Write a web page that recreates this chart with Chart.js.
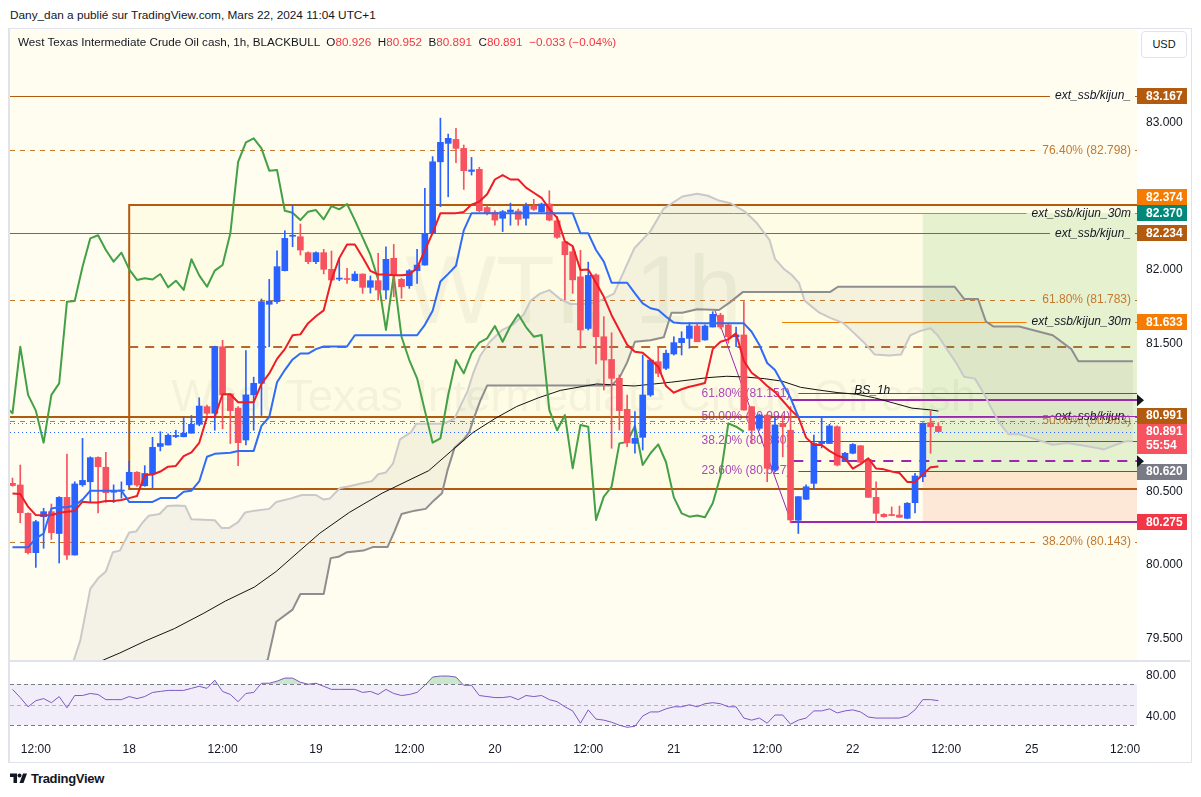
<!DOCTYPE html>
<html lang="fr">
<head>
    <meta charset="UTF-8">
    <title>WTI 1h - ichimoku</title>
    <script src="https://cdn.jsdelivr.net/npm/chart.js@4.4.1/dist/chart.umd.min.js"></script>
    <style>
        html, body { margin: 0; padding: 0; background: #fff; }
        body { width: 1201px; height: 797px; position: relative; overflow: hidden;
               font-family: Arial, "Liberation Sans", sans-serif; color: #131722; }
        #byline { position: absolute; left: 10px; top: 8px; font-size: 11.8px; }
        #frame { position: absolute; left: 8px; top: 28px; width: 1184px; height: 735px;
                 border: 1px solid #e0e3eb; border-left-width: 2px; box-sizing: border-box; }
        #main { position: absolute; left: 0; top: 30px; }
        #rsi { position: absolute; left: 0; top: 662px; }
        #sep { position: absolute; left: 10px; top: 660px; width: 1180px; height: 2px; background: #e0e3eb; }
        #legend { position: absolute; left: 18px; top: 35px; font-size: 11.7px; white-space: pre; }
        #legend .r { color: #f23645; }
        #usd { position: absolute; left: 1141px; top: 31px; width: 46px; height: 27px; box-sizing: border-box;
               border: 1px solid #e0e3eb; border-radius: 4px; font-size: 11px; text-align: center; line-height: 25px; background: #fff; }
        #logo { position: absolute; left: 10px; top: 771px; font-size: 13px; font-weight: bold; letter-spacing: -0.3px; }
        #logo svg { vertical-align: -1px; margin-right: 3px; }
    </style>
</head>
<body>
    <div id="byline">Dany_dan a publié sur TradingView.com, Mars 22, 2024 11:04 UTC+1</div>
    <div id="frame"></div>
    <canvas id="main" width="1190" height="630"></canvas>
    <div id="sep"></div>
    <canvas id="rsi" width="1190" height="100"></canvas>
    <div id="legend"></div>
    <div id="usd">USD</div>
    <div id="logo"><svg width="18" height="12" viewBox="0 0 36 24"><path d="M14 22H7V10H0V3h14v19zM27 22h-8l7-19h8l-7 19z" fill="#131722"/><circle cx="19" cy="7" r="4" fill="#131722"/></svg>TradingView</div>

    <script>
        // hourly candles, index 0 = first visible bar
        const opens = [80.54, 80.529, 80.337, 80.07, 80.314, 80.348, 80.2, 80.445, 80.054, 80.53,
            80.551, 80.716, 80.649, 80.48, 80.488, 80.53, 80.615, 80.524, 80.603, 80.79,
            80.80, 80.857, 80.856, 80.88, 80.94, 81.06, 81.015, 81.466, 81.146, 81.05,
            80.834, 81.14, 81.218, 81.754, 81.772, 81.982, 82.215, 82.212, 82.104, 82.043,
            82.104, 81.991, 81.925, 81.928, 81.914, 81.959, 81.869, 81.914, 81.851, 82.066,
            81.923, 81.88, 81.982, 82.02, 82.235, 82.72, 82.845, 82.872, 82.811, 82.655,
            82.669, 82.41, 82.378, 82.337, 82.382, 82.386, 82.337, 82.42, 82.382, 82.434,
            82.32, 82.178, 82.11, 81.94, 81.59, 81.953, 81.534, 81.38, 81.252, 81.042,
            80.811, 80.852, 81.139, 81.365, 81.32, 81.417, 81.494, 81.523, 81.607, 81.512,
            81.6, 81.68, 81.614, 81.534, 81.546, 81.06, 80.913, 81.003, 80.63, 80.947,
            80.9, 80.29, 80.432, 80.54, 80.81, 80.81, 80.924, 80.687, 80.744, 80.795,
            80.703, 80.445, 80.33, 80.325, 80.325, 80.303, 80.409, 80.585, 80.951, 80.926];
        const highs = [80.576, 80.664, 80.34, 80.29, 80.371, 80.40, 80.45, 80.739, 80.551, 80.845,
            80.72, 80.72, 80.75, 80.53, 80.55, 80.69, 80.62, 80.66, 80.852, 80.89,
            80.875, 80.90, 80.99, 81.0, 81.12, 81.07, 81.47, 81.51, 81.15, 81.06,
            81.44, 81.26, 81.79, 81.923, 82.117, 82.253, 82.427, 82.298, 82.11, 82.11,
            82.127, 82.115, 82.066, 81.998, 81.975, 81.96, 81.946, 82.1, 82.144, 82.16,
            81.93, 81.99, 82.127, 82.54, 82.755, 83.016, 82.908, 82.947, 82.834, 82.75,
            82.683, 82.42, 82.39, 82.39, 82.44, 82.40, 82.44, 82.466, 82.44, 82.524,
            82.35, 82.18, 82.144, 82.12, 82.04, 81.96, 81.67, 81.561, 81.275, 81.139,
            81.026, 81.41, 81.376, 81.456, 81.444, 81.534, 81.568, 81.63, 81.62, 81.614,
            81.704, 81.693, 81.62, 81.6, 81.772, 81.06, 81.01, 81.01, 80.99, 81.0,
            81.06, 80.45, 80.53, 80.867, 80.99, 80.94, 80.93, 80.75, 80.81, 80.795,
            80.703, 80.551, 80.335, 80.38, 80.386, 80.41, 80.608, 80.951, 81.03, 80.952];
        const lows = [80.52, 80.273, 80.061, 79.97, 80.10, 80.16, 80.0, 80.025, 80.054, 80.52,
            80.41, 80.34, 80.41, 80.41, 80.44, 80.52, 80.52, 80.52, 80.51, 80.76,
            80.80, 80.85, 80.855, 80.88, 80.93, 81.0, 80.90, 80.91, 80.81, 80.66,
            80.80, 80.90, 81.0, 81.466, 81.76, 81.98, 82.144, 82.088, 82.03, 82.03,
            81.96, 81.915, 81.914, 81.896, 81.91, 81.828, 81.83, 81.783, 81.788, 81.805,
            81.795, 81.862, 81.896, 82.02, 82.235, 82.416, 82.483, 82.714, 82.533, 82.63,
            82.382, 82.36, 82.29, 82.247, 82.29, 82.29, 82.29, 82.39, 82.38, 82.32,
            82.20, 81.783, 81.828, 81.456, 81.58, 81.35, 81.173, 80.778, 80.902, 80.789,
            80.744, 80.766, 81.13, 81.263, 81.31, 81.41, 81.41, 81.456, 81.5, 81.51,
            81.6, 81.59, 81.49, 81.466, 81.037, 80.81, 80.9, 80.551, 80.62, 80.72,
            80.275, 80.2, 80.43, 80.5, 80.78, 80.81, 80.658, 80.687, 80.74, 80.68,
            80.445, 80.273, 80.31, 80.32, 80.31, 80.30, 80.34, 80.551, 80.744, 80.891];
        const closes = [80.525, 80.341, 80.07, 80.28, 80.348, 80.206, 80.445, 80.054, 80.536, 80.56,
            80.714, 80.653, 80.477, 80.49, 80.49, 80.615, 80.529, 80.607, 80.784, 80.81,
            80.866, 80.865, 80.88, 80.94, 81.064, 81.015, 81.466, 81.14, 81.033, 80.816,
            81.14, 81.218, 81.772, 81.776, 82.009, 82.201, 82.222, 82.122, 82.043, 82.104,
            81.991, 81.919, 81.93, 81.922, 81.959, 81.869, 81.914, 81.851, 82.059, 81.95,
            81.873, 81.982, 82.02, 82.235, 82.72, 82.852, 82.879, 82.811, 82.66, 82.665,
            82.388, 82.375, 82.325, 82.382, 82.393, 82.33, 82.42, 82.398, 82.434, 82.325,
            82.208, 82.09, 81.92, 81.58, 81.95, 81.534, 81.376, 81.252, 81.033, 80.816,
            80.845, 81.139, 81.376, 81.286, 81.422, 81.494, 81.523, 81.607, 81.5, 81.607,
            81.686, 81.6, 81.534, 81.546, 81.037, 80.9, 81.003, 80.642, 80.936, 80.924,
            80.292, 80.45, 80.517, 80.811, 80.82, 80.929, 80.664, 80.744, 80.804, 80.683,
            80.445, 80.337, 80.314, 80.322, 80.31, 80.405, 80.59, 80.947, 80.924, 80.891];

        // ichimoku lines
        const tenkan = [80.472, 80.468, 80.382, 80.325, 80.322, 80.325, 80.34, 80.348, 80.353, 80.416,
            80.41, 80.41, 80.42, 80.42, 80.427, 80.44, 80.454, 80.597, 80.6, 80.62,
            80.653, 80.658, 80.725, 80.75, 80.815, 80.99, 80.99, 81.144, 81.144, 81.09,
            81.09, 81.09, 81.214, 81.285, 81.384, 81.45, 81.544, 81.55, 81.626, 81.673,
            81.713, 81.92, 82.067, 82.16, 82.16, 82.073, 81.98, 81.956, 81.956, 81.951,
            81.951, 81.956, 82.0, 82.12, 82.238, 82.372, 82.372, 82.372, 82.38, 82.43,
            82.45, 82.5, 82.6, 82.63, 82.6, 82.6, 82.545, 82.51, 82.476, 82.4,
            82.34, 82.18, 82.149, 81.986, 81.99, 81.9, 81.805, 81.68, 81.58, 81.48,
            81.433, 81.426, 81.38, 81.33, 81.2, 81.155, 81.178, 81.195, 81.207, 81.22,
            81.45, 81.5, 81.516, 81.557, 81.37, 81.29, 81.25, 81.2, 81.16, 81.1,
            81.04, 80.99, 80.85, 80.8, 80.8, 80.76, 80.73, 80.71, 80.64, 80.67,
            80.71, 80.64, 80.635, 80.62, 80.61, 80.55, 80.55, 80.6, 80.65, 80.655];
        const kijun = [80.106, 80.106, 80.106, 80.167, 80.2, 80.37, 80.378, 80.378, 80.39, 80.43,
            80.49, 80.49, 80.49, 80.49, 80.49, 80.414, 80.414, 80.414, 80.414, 80.44,
            80.44, 80.44, 80.483, 80.49, 80.553, 80.72, 80.74, 80.744, 80.748, 80.76,
            80.76, 80.76, 80.93, 80.99, 81.226, 81.308, 81.38, 81.42, 81.42, 81.45,
            81.468, 81.468, 81.468, 81.468, 81.544, 81.544, 81.544, 81.544, 81.544, 81.544,
            81.544, 81.544, 81.544, 81.615, 81.71, 81.909, 81.96, 82.015, 82.255, 82.372,
            82.372, 82.372, 82.372, 82.372, 82.372, 82.372, 82.372, 82.372, 82.372, 82.372,
            82.372, 82.372, 82.372, 82.235, 82.235, 82.122, 82.043, 81.9, 81.9, 81.9,
            81.828, 81.76, 81.727, 81.715, 81.67, 81.63, 81.625, 81.625, 81.625, 81.625,
            81.625, 81.625, 81.625, 81.625, 81.625, 81.568, 81.478, 81.356, 81.308, 81.214,
            81.12, 80.99, 80.99, 80.99, 80.99, 80.99, 80.99, 80.99, 80.99, 80.99,
            80.99, 80.99, 80.99, 80.99, 80.99, 80.99, 80.99, 80.99, 80.99, 80.99];
        const chikouShift = -25;

        // cloud edges (projected ahead), read at their corners
        const leadA = [
            {x: 7, y: 79.2}, {x: 8.7, y: 79.472}, {x: 10, y: 79.825}, {x: 11, y: 79.896}, {x: 12, y: 79.943},
            {x: 12.9, y: 80.073}, {x: 13.8, y: 80.084}, {x: 15, y: 80.207}, {x: 15.9, y: 80.214}, {x: 16.7, y: 80.273},
            {x: 17.5, y: 80.32}, {x: 18.9, y: 80.332}, {x: 19.9, y: 80.386}, {x: 21.2, y: 80.39}, {x: 22.2, y: 80.386},
            {x: 23, y: 80.296}, {x: 26, y: 80.29}, {x: 26.9, y: 80.237}, {x: 27.8, y: 80.237}, {x: 29, y: 80.277},
            {x: 29.9, y: 80.343}, {x: 31.1, y: 80.355}, {x: 33, y: 80.367}, {x: 33.9, y: 80.414}, {x: 35.8, y: 80.438},
            {x: 37.2, y: 80.461}, {x: 39, y: 80.461}, {x: 40, y: 80.43}, {x: 40.8, y: 80.438}, {x: 42.1, y: 80.508},
            {x: 43.3, y: 80.52}, {x: 45.1, y: 80.543}, {x: 46.2, y: 80.555}, {x: 47, y: 80.602}, {x: 48, y: 80.614},
            {x: 48.9, y: 80.673}, {x: 49.8, y: 80.838}, {x: 51.2, y: 80.885}, {x: 51.9, y: 80.944}, {x: 55.4, y: 80.944},
            {x: 56.8, y: 80.979}, {x: 58.5, y: 81.167}, {x: 59.2, y: 81.285}, {x: 60.1, y: 81.403}, {x: 61.3, y: 81.497},
            {x: 62.9, y: 81.579}, {x: 64.3, y: 81.615}, {x: 65.7, y: 81.685}, {x: 66.6, y: 81.779}, {x: 67.8, y: 81.826},
            {x: 69, y: 81.85}, {x: 70.4, y: 81.79}, {x: 71.7, y: 81.756}, {x: 73.2, y: 81.756}, {x: 75.1, y: 81.767},
            {x: 77.3, y: 81.826}, {x: 78.7, y: 81.991}, {x: 79.9, y: 82.132}, {x: 82, y: 82.25}, {x: 83.7, y: 82.403},
            {x: 86.1, y: 82.485}, {x: 88, y: 82.504}, {x: 89.4, y: 82.49}, {x: 90.8, y: 82.457}, {x: 92.3, y: 82.439},
            {x: 94.2, y: 82.38}, {x: 95.6, y: 82.309}, {x: 97.3, y: 82.191}, {x: 98, y: 82.062}, {x: 99.2, y: 81.991},
            {x: 100.1, y: 81.956}, {x: 101.1, y: 81.897}, {x: 101.8, y: 81.779}, {x: 103.7, y: 81.697}, {x: 105.1, y: 81.662},
            {x: 106.8, y: 81.626}, {x: 108, y: 81.567}, {x: 109.4, y: 81.497}, {x: 110.8, y: 81.414}, {x: 112.7, y: 81.407},
            {x: 114.2, y: 81.414}, {x: 115.4, y: 81.544}, {x: 116.6, y: 81.572}, {x: 118, y: 81.591}, {x: 118.9, y: 81.544},
            {x: 120.1, y: 81.45}, {x: 121.3, y: 81.356}, {x: 122.3, y: 81.262}, {x: 123.7, y: 81.25}, {x: 124.9, y: 81.144},
            {x: 125.8, y: 81.05}, {x: 126.8, y: 80.955}, {x: 128, y: 80.873}, {x: 129.4, y: 80.873}, {x: 130.8, y: 80.85},
            {x: 132.3, y: 80.826}, {x: 133.7, y: 80.802}, {x: 135.6, y: 80.814}, {x: 137, y: 80.802}, {x: 139.4, y: 80.779},
            {x: 140.3, y: 80.77}, {x: 141.8, y: 80.802}, {x: 143.2, y: 80.826}, {x: 144, y: 80.826}];
        const leadB = [
            {x: 7, y: 78.6}, {x: 32.8, y: 79.343}, {x: 33.9, y: 79.602}, {x: 36, y: 79.684}, {x: 37, y: 79.79},
            {x: 40, y: 79.79}, {x: 40.9, y: 80.033}, {x: 41.9, y: 80.042}, {x: 43, y: 80.073}, {x: 45.1, y: 80.084},
            {x: 46.3, y: 80.108}, {x: 48.2, y: 80.108}, {x: 49.1, y: 80.214}, {x: 50, y: 80.332}, {x: 51.7, y: 80.355},
            {x: 53.1, y: 80.367}, {x: 54.2, y: 80.426}, {x: 55.2, y: 80.473}, {x: 55.9, y: 80.626}, {x: 56.8, y: 80.779},
            {x: 58, y: 80.838}, {x: 58.7, y: 80.885}, {x: 59.2, y: 80.967}, {x: 60.1, y: 81.097}, {x: 61, y: 81.203},
            {x: 77, y: 81.203}, {x: 78, y: 81.255}, {x: 79, y: 81.36}, {x: 80, y: 81.5}, {x: 82, y: 81.51},
            {x: 83.7, y: 81.53}, {x: 84.7, y: 81.697}, {x: 86.1, y: 81.697}, {x: 88, y: 81.72}, {x: 90.8, y: 81.715},
            {x: 92.2, y: 81.767}, {x: 93.9, y: 81.838}, {x: 105.1, y: 81.838}, {x: 106.1, y: 81.873}, {x: 121.1, y: 81.873},
            {x: 122.3, y: 81.79}, {x: 124.1, y: 81.79}, {x: 125.1, y: 81.638}, {x: 126.1, y: 81.603}, {x: 129.4, y: 81.603},
            {x: 133.7, y: 81.544}, {x: 136.1, y: 81.45}, {x: 137, y: 81.367}, {x: 144, y: 81.367}];
        // long moving average (black)
        const maLine = [
            {x: 8, y: 79.25}, {x: 11.7, y: 79.343}, {x: 13.8, y: 79.39}, {x: 17.1, y: 79.472}, {x: 20.8, y: 79.555},
            {x: 24.6, y: 79.66}, {x: 27.4, y: 79.743}, {x: 31.1, y: 79.837}, {x: 33.9, y: 79.943}, {x: 36.7, y: 80.073},
            {x: 39.5, y: 80.202}, {x: 43.3, y: 80.343}, {x: 47.5, y: 80.473}, {x: 50.7, y: 80.555}, {x: 53.5, y: 80.626},
            {x: 56.3, y: 80.755}, {x: 59.2, y: 80.885}, {x: 62, y: 80.979}, {x: 64.8, y: 81.061}, {x: 67.6, y: 81.12},
            {x: 70.4, y: 81.17}, {x: 75.1, y: 81.214}, {x: 79.9, y: 81.2}, {x: 84.7, y: 81.226}, {x: 89.4, y: 81.257},
            {x: 91.8, y: 81.266}, {x: 94.2, y: 81.261}, {x: 96.6, y: 81.25}, {x: 98.9, y: 81.233}, {x: 101.3, y: 81.191},
            {x: 103.7, y: 81.172}, {x: 106.1, y: 81.155}, {x: 108.5, y: 81.144}, {x: 110.8, y: 81.12}, {x: 113.2, y: 81.085},
            {x: 115.6, y: 81.05}, {x: 118, y: 81.038}, {x: 119, y: 81.03}];

        const rsi = [65, 57, 48, 54, 56, 52, 58, 47, 59, 59,
            61, 60, 55, 55, 55, 58, 56, 58, 62, 63,
            64, 64, 64, 66, 68, 66, 74, 63, 60, 53,
            61, 62, 71, 71, 73, 76, 76, 72, 70, 71,
            68, 65, 65, 65, 65, 62, 63, 60, 65, 61,
            59, 60, 62, 69, 77, 78, 78, 77, 69, 69,
            59, 58, 57, 57, 58, 55, 59, 58, 59, 55,
            53, 48, 44, 32, 45, 36, 35, 33, 30, 28,
            29, 39, 43, 43, 46, 48, 48, 50, 48, 51,
            52, 51, 48, 48, 37, 35, 37, 32, 40, 40,
            31, 35, 37, 44, 44, 46, 42, 44, 45, 43,
            38, 37, 37, 37, 37, 39, 45, 55, 55, 54];

        // axes
        const timeTickIdx = [3, 15, 27, 39, 51, 62, 74, 85, 97, 108, 120, 131, 143];
        const timeTickText = ['12:00', '18', '12:00', '19', '12:00', '20', '12:00', '21', '12:00', '22', '12:00', '25', '12:00'];
        const priceTicks = [79.5, 80, 80.5, 81.5, 82, 83];
        const rsiTicks = [40, 80];
        const xMin = -0.32, xMax = 144.53;

        // drawings on the chart
        const kijunLevels = [83.167, 82.234, 80.991];           // ext_ssb/kijun_
        const kijun30Levels = [82.370, 81.633];                 // ext_ssb/kijun_30m
        const kijun30From = [55, 98.9];
        const fibLevels = [82.798, 81.783, 80.963, 80.143];
        const fibNames = ['76.40% (82.798)', '61.80% (81.783)', '50.00% (80.963)', '38.20% (80.143)'];
        const boxFrom = 15, boxTop = 82.427, boxBottom = 80.502;
        const posFrom = 117, posTarget = 82.373, posEntry = 80.62, posStop = 80.275;
        const swingFib = [81.151, 80.994, 80.830, 80.627];
        const swingNames = ['61.80% (81.151)', '50.00% (80.994)', '38.20% (80.830)', '23.60% (80.627)'];
        const swingLine = [{x: 90.3, y: 81.71}, {x: 100.1, y: 80.275}];
        const bsLevel = 81.104, dashLevel = 80.69, lowLevel = 80.275;
        const redDotLevel = 80.947;
        const tagValues = [83.167, 82.374, 82.370, 82.234, 81.633, 80.991, 80.891, 80.620, 80.275];
        const tagColors = ['#b25a0e', '#f57c00', '#00897b', '#b25a0e', '#f57c00', '#b25a0e', '#f7525f', '#787b86', '#f23645'];
        const countdown = '55:54';
        const watermark = ['WTI, 1h', 'West Texas Intermediate Crude Oil cash'];

        const last = closes.length - 1;
        const chg = closes[last] - closes[last - 1];
        const fmt = v => v.toFixed(3);
        document.getElementById('legend').innerHTML =
            'West Texas Intermediate Crude Oil cash, 1h, BLACKBULL  ' +
            'O<span class="r">' + fmt(opens[last]) + '</span>  ' +
            'H<span class="r">' + fmt(highs[last]) + '</span>  ' +
            'B<span class="r">' + fmt(lows[last]) + '</span>  ' +
            'C<span class="r">' + fmt(closes[last]) + '</span>  ' +
            '<span class="r">' + (chg < 0 ? '\u2212' : '+') + Math.abs(chg).toFixed(3) +
            ' (' + (chg < 0 ? '\u2212' : '+') + Math.abs(chg / closes[last - 1] * 100).toFixed(2) + '%)</span>';

        Chart.defaults.font.family = 'Arial, "Liberation Sans", sans-serif';
        Chart.defaults.font.size = 12;
        Chart.defaults.color = '#131722';

        const BLUE = '#2962ff', RED = '#f7525f';
        const candleColors = closes.map((c, i) => c >= opens[i] ? BLUE : RED);
        const wicks = highs.map((h, i) => ({x: i, y: [lows[i], h]}));
        const bodies = opens.map((o, i) => ({x: i, y: [o, closes[i]]}));
        const tenkanPts = tenkan.map((v, i) => ({x: i, y: v}));
        const kijunPts = kijun.map((v, i) => ({x: i, y: v}));
        const chikouPts = closes.map((v, i) => ({x: i + chikouShift, y: v}));

        // right axis: fixed width, no extra room for the end labels
        function fitRight(s) {
            s.width = 53;
            s.paddingTop = 0;
            s.paddingBottom = 0;
        }

        function hline(ctx, a, py, x0, color, width, dash, label, labelColor, labelFont) {
            const y = Math.round(py) + (width % 2 ? 0.5 : 0);
            let segs = [[x0, a.right]];
            ctx.save();
            if (label) {
                ctx.font = labelFont;
                const w = ctx.measureText(label).width;
                const tr = a.right - 6;
                segs = [[x0, tr - w - 5], [tr + 4, a.right]];
                ctx.fillStyle = labelColor;
                ctx.textAlign = 'right';
                ctx.textBaseline = 'middle';
                ctx.fillText(label, tr, py);
            }
            ctx.strokeStyle = color;
            ctx.lineWidth = width;
            ctx.setLineDash(dash || []);
            segs.forEach(([s, e]) => {
                if (e > s) { ctx.beginPath(); ctx.moveTo(s, y); ctx.lineTo(e, y); ctx.stroke(); }
            });
            ctx.restore();
        }

        const mainDecor = {
            id: 'mainDecor',
            beforeDraw(chart) {
                const {ctx, chartArea: a} = chart;
                ctx.save();
                ctx.fillStyle = '#fffdf0';
                ctx.fillRect(a.left, a.top, a.right - a.left, a.bottom - a.top);
                ctx.restore();
            },
            beforeDatasetsDraw(chart) {
                const {ctx, chartArea: a, scales: {x, y}} = chart;
                ctx.save();
                ctx.beginPath();
                ctx.rect(a.left, a.top, a.right - a.left, a.bottom - a.top);
                ctx.clip();

                // symbol watermark
                const cx = (a.left + a.right) / 2, h = a.bottom - a.top;
                ctx.fillStyle = 'rgba(60,60,30,0.06)';
                ctx.textAlign = 'center';
                ctx.textBaseline = 'middle';
                ctx.font = '96px Arial, "Liberation Sans", sans-serif';
                ctx.fillText(watermark[0], cx, a.top + h * 0.423);
                ctx.font = '45px Arial, "Liberation Sans", sans-serif';
                ctx.fillText(watermark[1], cx, a.top + h * 0.585);

                // rectangle with its middle line
                const bx = x.getPixelForValue(boxFrom);
                const bt = y.getPixelForValue(boxTop), bb = y.getPixelForValue(boxBottom);
                ctx.fillStyle = 'rgba(255,236,120,0.08)';
                ctx.fillRect(bx, bt, a.right - bx, bb - bt);
                ctx.strokeStyle = '#b25a0e';
                ctx.lineWidth = 2;
                ctx.beginPath();
                ctx.moveTo(a.right + 2, Math.round(bt)); ctx.lineTo(bx, Math.round(bt));
                ctx.lineTo(bx, Math.round(bb)); ctx.lineTo(a.right + 2, Math.round(bb));
                ctx.stroke();
                hline(ctx, a, y.getPixelForValue((boxTop + boxBottom) / 2), bx, '#b8692a', 2, [9, 7]);

                // long position tool
                const px = x.getPixelForValue(posFrom);
                const pT = y.getPixelForValue(posTarget), pE = y.getPixelForValue(posEntry), pS = y.getPixelForValue(posStop);
                ctx.fillStyle = 'rgba(76,175,80,0.14)';
                ctx.fillRect(px, pT, a.right - px, pE - pT);
                ctx.fillStyle = 'rgba(242,110,70,0.15)';
                ctx.fillRect(px, pE, a.right - px, pS - pE);

                // horizontal levels
                const italic = 'italic 12px Arial, "Liberation Sans", sans-serif';
                const plain = '12px Arial, "Liberation Sans", sans-serif';
                fibLevels.forEach((v, k) => hline(ctx, a, y.getPixelForValue(v), a.left, '#c27a30', 1, [5, 5], fibNames[k], '#c27a30', plain));
                hline(ctx, a, y.getPixelForValue(redDotLevel), a.left, '#f23645', 1, [1, 3]);
                hline(ctx, a, y.getPixelForValue(closes[last]), a.left, '#2962ff', 1, [1, 3]);
                kijun30Levels.forEach((v, k) => hline(ctx, a, y.getPixelForValue(v), x.getPixelForValue(kijun30From[k]), '#f57c00', 1, [], 'ext_ssb/kijun_30m', '#131722', italic));
                kijunLevels.forEach(v => hline(ctx, a, y.getPixelForValue(v), a.left, '#b25a0e', v === 80.991 ? 2 : 1, [], 'ext_ssb/kijun_', '#131722', italic));

                // retracement on the last swing
                const sx = x.getPixelForValue(swingLine[1].x);
                const purple = '#9c27b0';
                swingFib.forEach(v => hline(ctx, a, y.getPixelForValue(v), sx + 7, purple, 1, []));
                hline(ctx, a, y.getPixelForValue(bsLevel), sx, purple, 2, []);
                hline(ctx, a, y.getPixelForValue(dashLevel), sx + 2, purple, 2, [10, 8]);
                hline(ctx, a, y.getPixelForValue(lowLevel), sx - 1, purple, 2, []);
                ctx.strokeStyle = purple;
                ctx.lineWidth = 1;
                ctx.setLineDash([]);
                ctx.beginPath();
                ctx.moveTo(x.getPixelForValue(swingLine[0].x), y.getPixelForValue(swingLine[0].y));
                ctx.lineTo(sx, y.getPixelForValue(swingLine[1].y));
                ctx.stroke();
                ctx.font = plain;
                ctx.fillStyle = 'rgba(156,39,176,0.85)';
                ctx.textAlign = 'right';
                ctx.textBaseline = 'middle';
                swingFib.forEach((v, k) => ctx.fillText(swingNames[k], sx - 1, y.getPixelForValue(v)));
                ctx.font = italic;
                ctx.fillStyle = '#131722';
                ctx.textAlign = 'center';
                ctx.fillText('BS_1h', x.getPixelForValue(110.5), y.getPixelForValue(bsLevel) - 10);
                ctx.restore();
            },
            afterDraw(chart) {
                const {ctx, chartArea: a, scales: {y}} = chart;
                const live = tagValues.indexOf(closes[last]);
                const tags = tagValues.map((v, k) => ({k, c: y.getPixelForValue(v)}));
                tags.sort((p, q) => p.c - q.c);
                for (let n = tags.length - 2; n >= 0; n--) {
                    const below = tags[n + 1].c - 8;
                    const myBottom = tags[n].c + (tags[n].k === live ? 22 : 8);
                    if (myBottom > below) tags[n].c -= myBottom - below;
                }
                ctx.save();
                ctx.font = 'bold 12px Arial, "Liberation Sans", sans-serif';
                ctx.textBaseline = 'middle';
                ctx.textAlign = 'left';
                tags.forEach(t => {
                    const hgt = t.k === live ? 30 : 16;
                    ctx.fillStyle = tagColors[t.k];
                    ctx.fillRect(a.right, Math.round(t.c - 8), 50, hgt);
                    ctx.fillStyle = '#fff';
                    ctx.fillText(tagValues[t.k].toFixed(3), a.right + 9, t.c + 0.5);
                    if (t.k === live) ctx.fillText(countdown, a.right + 9, t.c + 14.5);
                });
                // markers of the horizontal rays
                ctx.fillStyle = '#131722';
                [bsLevel, dashLevel].forEach(v => {
                    const py = y.getPixelForValue(v);
                    ctx.beginPath();
                    ctx.moveTo(a.right, py - 6); ctx.lineTo(a.right + 7, py); ctx.lineTo(a.right, py + 6);
                    ctx.closePath();
                    ctx.fill();
                });
                ctx.restore();
            }
        };

        const lineDs = (label, data, color, width, order) => ({
            type: 'line', label, data, borderColor: color, borderWidth: width,
            pointRadius: 0, fill: false, order, clip: 0, borderJoinStyle: 'round'
        });

        const leadADs = lineDs('Lead 1', leadA, '#c9c9c9', 2, 9);
        leadADs.fill = {target: '+1', above: 'rgba(110,110,110,0.08)', below: 'rgba(110,110,110,0.08)'};

        new Chart(document.getElementById('main'), {
            type: 'bar',
            data: {
                datasets: [
                    leadADs,
                    lineDs('Lead 2', leadB, '#8e8e8e', 2, 8),
                    lineDs('MA', maLine, '#131313', 1, 7),
                    lineDs('Lagging', chikouPts, '#43a047', 2, 6),
                    {label: 'wick', data: wicks, backgroundColor: candleColors, barThickness: 1, grouped: false, order: 5, clip: 0},
                    {label: 'body', data: bodies, backgroundColor: candleColors, barThickness: 6, grouped: false, minBarLength: 1, order: 4, clip: 0},
                    lineDs('Conversion', tenkanPts, '#ee1c25', 2, 3),
                    lineDs('Base', kijunPts, '#2f6bf7', 2, 2)
                ]
            },
            options: {
                responsive: false,
                animation: false,
                devicePixelRatio: 1,
                layout: {autoPadding: false, padding: {left: 10, top: 0, right: 0, bottom: 0}},
                plugins: {legend: {display: false}, tooltip: {enabled: false}},
                scales: {
                    x: {type: 'linear', min: xMin, max: xMax, offset: false, display: false, grid: {display: false, offset: false}},
                    y: {
                        position: 'right', min: 79.3424, max: 83.6136,
                        afterFit: fitRight,
                        afterBuildTicks(s) { s.ticks = priceTicks.map(v => ({value: v})); },
                        ticks: {callback: v => v.toFixed(3), padding: 9, labelOffset: 2, color: '#131722'},
                        grid: {display: false, drawTicks: false},
                        border: {display: false}
                    }
                }
            },
            plugins: [mainDecor]
        });

        const rsiDecor = {
            id: 'rsiDecor',
            beforeDatasetsDraw(chart) {
                const {ctx, chartArea: a, scales: {y}} = chart;
                const y70 = y.getPixelForValue(70), y30 = y.getPixelForValue(30);
                ctx.save();
                ctx.fillStyle = 'rgba(126,87,194,0.1)';
                ctx.fillRect(a.left, y70, a.right - a.left, y30 - y70);
                hline(ctx, a, y70, a.left, '#787b86', 1, [4, 3]);
                hline(ctx, a, y30, a.left, '#787b86', 1, [4, 3]);
                hline(ctx, a, y.getPixelForValue(50), a.left, 'rgba(120,123,134,0.5)', 1, [4, 3]);
                ctx.restore();
            }
        };

        new Chart(document.getElementById('rsi'), {
            type: 'line',
            data: {
                datasets: [{
                    label: 'RSI', data: rsi.map((v, i) => ({x: i, y: v})),
                    borderColor: '#7e57c2', borderWidth: 1, pointRadius: 0, clip: 0,
                    fill: {target: {value: 70}, above: 'rgba(76,175,80,0.3)', below: 'rgba(0,0,0,0)'}
                }]
            },
            options: {
                responsive: false,
                animation: false,
                devicePixelRatio: 1,
                layout: {autoPadding: false, padding: {left: 10, top: 1, right: 0, bottom: 0}},
                plugins: {legend: {display: false}, tooltip: {enabled: false}},
                scales: {
                    x: {
                        type: 'linear', min: xMin, max: xMax,
                        afterFit(s) { s.height = 27; s.paddingLeft = 0; s.paddingRight = 0; },
                        afterBuildTicks(s) { s.ticks = timeTickIdx.map(v => ({value: v})); },
                        ticks: {autoSkip: false, maxRotation: 0, padding: 7, callback: v => timeTickText[timeTickIdx.indexOf(v)]},
                        grid: {display: false, drawTicks: false},
                        border: {display: false}
                    },
                    y: {
                        position: 'right', min: 20.49, max: 90.73,
                        afterFit: fitRight,
                        afterBuildTicks(s) { s.ticks = rsiTicks.map(v => ({value: v})); },
                        ticks: {callback: v => v.toFixed(2), padding: 9, labelOffset: 2},
                        grid: {display: false, drawTicks: false},
                        border: {display: false}
                    }
                }
            },
            plugins: [rsiDecor]
        });
    </script>
</body>
</html>
